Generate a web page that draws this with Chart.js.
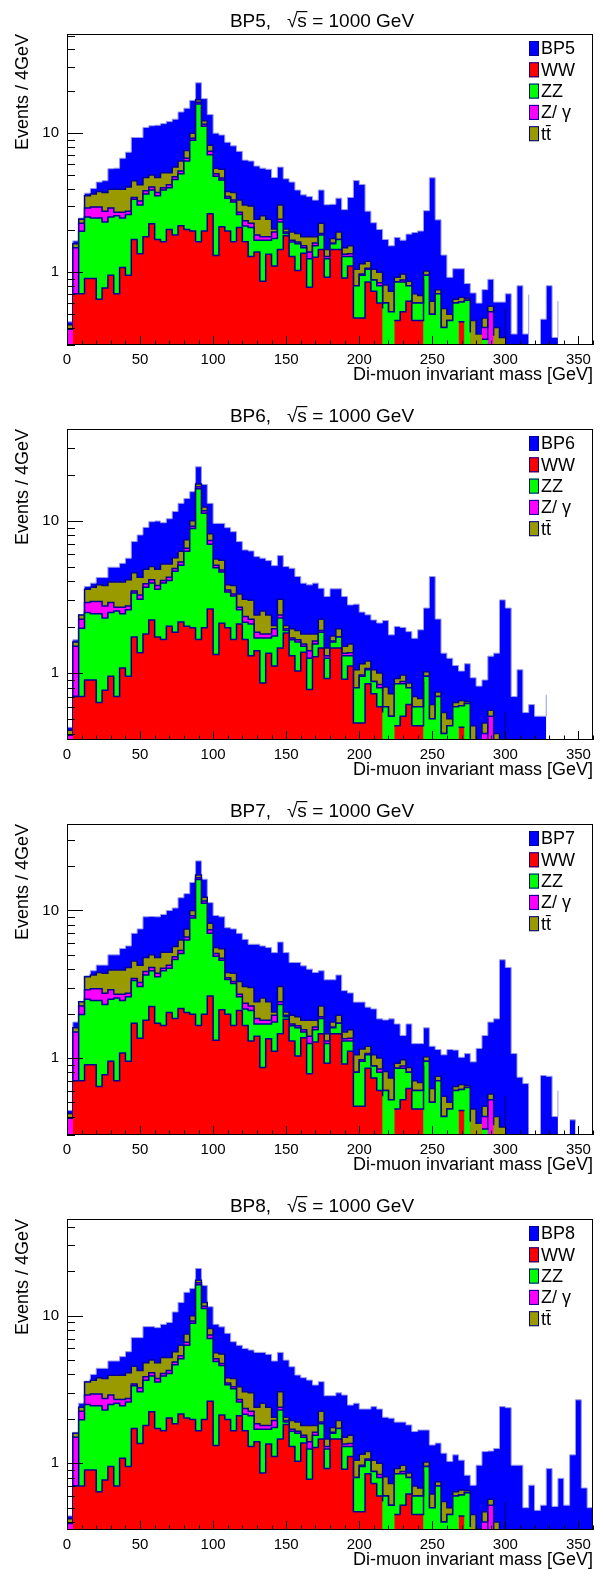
<!DOCTYPE html>
<html>
<head>
<meta charset="utf-8">
<title>Di-muon invariant mass, BP5 - BP8</title>
<script src="https://cdn.jsdelivr.net/npm/chart.js@4.4.1/dist/chart.umd.min.js"></script>
<style>
  html, body { margin: 0; padding: 0; background: #fff; }
  .panel { position: relative; width: 603px; height: 395px; }
</style>
</head>
<body>
<div class="panel"><canvas id="bp5"></canvas></div>
<div class="panel"><canvas id="bp6"></canvas></div>
<div class="panel"><canvas id="bp7"></canvas></div>
<div class="panel"><canvas id="bp8"></canvas></div>
<script>
// 90 bins of 4 GeV, 0 - 360 GeV
const binWidth = 4;
const massMax = 360;
const xTickLabels = [0, 50, 100, 150, 200, 250, 300, 350];
const yTickLabels = [1, 10];

// backgrounds (same in every panel), events per bin
const ww = [
  0, 0.70, 0.70, 0.90, 0.90, 0.64, 0.77, 0.95, 0.70, 1.08,
  0.95, 1.72, 1.36, 1.80, 2.23, 1.72, 1.66, 2.03, 1.85, 2.16,
  2.03, 1.98, 1.66, 1.98, 2.63, 1.32, 2.12, 1.98, 1.66, 2.10,
  1.66, 1.30, 1.40, 0.86, 1.35, 1.11, 1.46, 1.83, 1.30, 1.03,
  1.37, 0.78, 1.28, 1.46, 0.92, 1.46, 1.46, 0.91, 1.11, 0.47,
  0.47, 0.85, 0.73, 0.60, 0.55, 0, 0.45, 0.52, 0.62, 0.45,
  0.45, 0.88, 0, 0.38, 0, 0, 0, 0.44, 0.44, 0,
  0, 0, 0, 0, 0, 0, 0, 0.44, 0, 0,
  0, 0, 0.44, 0, 0, 0, 0, 0, 0, 0
];
const zz = [
  0, 0, 1.27, 1.60, 1.55, 1.81, 1.53, 1.55, 1.85, 1.37,
  1.65, 1.63, 1.69, 1.85, 1.67, 1.83, 2.24, 2.02, 2.80, 2.94,
  4.27, 6.92, 14.54, 9.22, 4.37, 3.58, 2.48, 1.42, 1.54, 0.50,
  0.49, 0.80, 0.30, 0.84, 0.35, 0.64, 0.84, 0.07, 0.35, 0.57,
  0.13, 0.47, 0.27, 0.39, 0.33, 0.14, 0.26, 0.39, 0.19, 0.33,
  0.48, 0.20, 0.15, 0.20, 0.05, 0.52, 0.40, 0.33, 0.18, 0.15,
  0.15, 0.07, 0.50, 0.32, 0.40, 0.45, 0.60, 0.17, 0.19, 0.37,
  0, 0.33, 0.52, 0, 0, 0.53, 0, 0.18, 0, 0.44,
  0, 0, 0.14, 0, 0.46, 0, 0, 0, 0, 0
];
const zgamma = [
  0.39, 0.80, 0.28, 0.40, 0.50, 0.50, 0.45, 0.40, 0.15, 0.25,
  0.15, 0.10, 0.20, 0.20, 0.20, 0.20, 0.15, 0.20, 0.20, 0.25,
  0.30, 0.30, 0.50, 0.40, 0.40, 0.20, 0.15, 0.10, 0.10, 0.10,
  0.20, 0.15, 0.15, 0.10, 0.10, 0.20, 0.10, 0.05, 0.05, 0.05,
  0.05, 0.15, 0.07, 0.05, 0.05, 0.02, 0, 0.05, 0.06, 0,
  0.02, 0.02, 0, 0.04, 0, 0, 0, 0.03, 0, 0,
  0, 0, 0, 0, 0, 0, 0, 0, 0, 0,
  0, 0.07, 0, 0.35, 0, 0, 0, 0, 0, 0,
  0, 0, 0, 0, 0, 0, 0, 0, 0, 0
];
const ttbar = [
  0.03, 0.10, 0.15, 0.65, 0.70, 0.85, 1.00, 1.05, 1.25, 1.25,
  1.35, 1.10, 1.00, 0.95, 0.90, 1.05, 1.15, 0.95, 0.85, 0.95,
  0.90, 0.80, 0.70, 0.70, 0.80, 0.50, 0.75, 0.30, 0.45, 0.60,
  0.70, 0.75, 0.55, 0.75, 0.60, 0.10, 0.65, 0.10, 0.25, 0.25,
  0.25, 0.40, 0.18, 0.35, 0.16, 0.13, 0.23, 0.15, 0.19, 0.25,
  0.18, 0.13, 0.17, 0.16, 0.21, 0.21, 0.07, 0.09, 0.06, 0.10,
  0.08, 0.07, 0.12, 0.05, 0.15, 0.05, 0.04, 0.05, 0.02, 0.08,
  0.36, 0.07, 0.05, 0.05, 0.34, 0.02, 0, 0.03, 0, 0.02,
  0, 0, 0.02, 0, 0.01, 0, 0, 0, 0, 0
];

// signal benchmark points
const bp5 = [
  0.02, 0.08, 0.05, 0.15, 0.35, 0.65, 0.80, 1.60, 1.65, 2.65,
  3.20, 4.75, 5.05, 6.20, 6.30, 6.60, 6.50, 6.90, 6.90, 7.90,
  7.60, 7.20, 5.60, 5.40, 5.40, 4.40, 4.20, 4.80, 4.35, 4.10,
  3.35, 3.30, 3.40, 3.05, 3.10, 2.75, 2.65, 2.65, 2.50, 2.00,
  1.80, 1.70, 1.50, 1.65, 1.60, 1.33, 1.46, 1.32, 1.90, 3.52,
  3.13, 1.55, 1.22, 1.03, 0.91, 0.82, 0.86, 0.73, 1.02, 1.23,
  1.30, 1.75, 4.16, 1.63, 0.78, 0.42, 0.42, 0.40, 0.18, 0.26,
  0.24, 0.28, 0.32, 0.21, 0.27, 0.15, 0.36, 0.15, 0.36, 0.23,
  0, 0.46, 0.20, 0.34, 0.15, 0, 0, 0, 0, 0
];
const bp6 = [
  0.02, 0.05, 0.02, 0.15, 0.24, 0.43, 0.48, 1.00, 1.00, 1.30,
  1.57, 2.74, 3.81, 4.24, 4.85, 5.15, 4.50, 5.10, 5.80, 6.70,
  6.50, 5.50, 5.20, 5.00, 4.80, 4.00, 4.10, 5.20, 4.72, 3.99,
  3.38, 3.33, 3.41, 3.12, 3.07, 3.02, 2.85, 2.95, 2.92, 2.40,
  2.09, 1.99, 2.09, 1.35, 1.72, 1.82, 1.62, 1.68, 1.25, 1.78,
  1.36, 1.21, 1.18, 1.13, 1.40, 1.05, 1.10, 1.02, 1.01, 0.99,
  1.24, 1.65, 3.68, 1.51, 0.80, 0.75, 0.48, 0.37, 0.50, 0.48,
  0.46, 0.43, 0.72, 0.95, 2.68, 2.12, 0.70, 0.40, 0.55, 0.16,
  0.52, 0.52, 0.12, 0, 0.19, 0, 0, 0.40, 0, 0
];
const bp7 = [
  0.02, 0.15, 0.02, 0.05, 0.25, 0.46, 0.51, 1.05, 1.05, 1.57,
  1.65, 2.45, 3.25, 4.26, 4.10, 4.26, 4.20, 4.80, 4.70, 5.90,
  5.50, 5.50, 4.30, 4.00, 3.10, 3.65, 3.56, 3.84, 3.75, 3.70,
  3.32, 2.90, 3.50, 3.20, 3.20, 3.13, 3.06, 3.13, 2.49, 2.54,
  2.41, 2.20, 2.00, 1.65, 1.93, 1.64, 1.70, 1.36, 1.21, 1.34,
  1.24, 1.01, 1.10, 0.84, 1.00, 1.11, 0.78, 0.45, 0.84, 0.55,
  0.57, 0.58, 0.58, 0.39, 0.50, 0.64, 0.49, 0.35, 0.42, 0.49,
  0.80, 0.95, 1.18, 1.44, 4.29, 3.56, 1.07, 0.09, 0.67, 0.18,
  0, 0.76, 0.15, 0.40, 0.13, 0, 0.38, 0.36, 0, 0
];
const bp8 = [
  0.02, 0.02, 0.15, 0.05, 0.35, 0.60, 0.65, 0.98, 0.98, 1.33,
  1.60, 2.55, 2.85, 3.63, 3.43, 3.50, 3.54, 3.80, 4.90, 6.00,
  6.90, 5.30, 3.50, 3.70, 3.30, 3.14, 2.90, 3.80, 2.91, 3.00,
  2.95, 2.85, 3.24, 3.09, 3.07, 2.88, 2.59, 2.95, 2.56, 2.06,
  2.00, 1.86, 1.59, 1.32, 1.41, 1.12, 1.05, 1.40, 0.93, 1.50,
  1.18, 1.13, 1.37, 1.33, 1.24, 1.29, 0.98, 0.93, 0.96, 0.94,
  1.00, 0.66, 0.71, 0.62, 0.62, 0.53, 0.50, 0.39, 0.18, 0.26,
  0.61, 0.73, 0.64, 0.86, 2.08, 1.83, 0.97, 0.32, 0.50, 0.25,
  0.48, 0.52, 0.32, 0.51, 0.32, 0.52, 1.14, 2.69, 0.68, 0.50
];

const panels = [
  { id: 'bp5', name: 'BP5', signal: bp5, yMin: 0.325, yMax: 51.6 },
  { id: 'bp6', name: 'BP6', signal: bp6, yMin: 0.363, yMax: 40.0 },
  { id: 'bp7', name: 'BP7', signal: bp7, yMin: 0.309, yMax: 38.6 },
  { id: 'bp8', name: 'BP8', signal: bp8, yMin: 0.353, yMax: 45.2 }
];

const FONT = '"Liberation Sans", Arial, Helvetica, sans-serif';
const LINE = '#000099';
Chart.defaults.font.family = FONT;
Chart.defaults.color = '#000';

// histogram as a step line: one point per low bin edge plus the upper edge
function stepPoints(values) {
  const pts = values.map((v, i) => ({ x: i * binWidth, y: v }));
  pts.push({ x: values.length * binWidth, y: values[values.length - 1] });
  return pts;
}

// draws the ROOT-like frame, inward ticks, title and legend
const rootFrame = {
  id: 'rootFrame',
  afterDraw(chart, args, opts) {
    const { ctx, chartArea: a } = chart;
    const xs = chart.scales.x;
    const ys = chart.scales.y;
    ctx.save();
    ctx.strokeStyle = '#000';
    ctx.lineWidth = 1;
    ctx.beginPath();
    for (let v = 0; v <= massMax; v += 10) {
      const px = Math.round(xs.getPixelForValue(v)) + 0.5;
      ctx.moveTo(px, a.bottom);
      ctx.lineTo(px, a.bottom - (v % 50 === 0 ? 9 : 4.5));
    }
    [0.1, 1, 10].forEach(dec => {
      for (let m = 1; m <= 9; m++) {
        const v = m * dec;
        if (v < ys.min || v > ys.max) continue;
        const py = Math.round(ys.getPixelForValue(v)) + 0.5;
        ctx.moveTo(a.left, py);
        ctx.lineTo(a.left + (m === 1 ? 16 : 8), py);
      }
    });
    ctx.stroke();
    ctx.strokeRect(a.left + 0.5, a.top + 0.5, a.width - 1, a.height - 1);

    // title with the square root bar over s
    ctx.fillStyle = '#000';
    ctx.font = '19px ' + FONT;
    ctx.textAlign = 'left';
    ctx.textBaseline = 'alphabetic';
    const head = opts.name + ',   \u221A';
    const text = head + 's = 1000 GeV';
    const x0 = 322 - ctx.measureText(text).width / 2;
    const base = 26.5;
    ctx.fillText(text, x0, base);
    const s0 = x0 + ctx.measureText(head).width;
    const s1 = s0 + ctx.measureText('s').width;
    ctx.fillRect(s0 - 1, base - 15.5, s1 - s0 + 1.5, 1.2);

    // legend
    ctx.font = '18px ' + FONT;
    ctx.textBaseline = 'middle';
    const bx = a.right - 64;
    opts.entries.forEach((e, k) => {
      const cy = a.top + 14.5 + k * 21.3;
      ctx.fillStyle = e.color;
      ctx.fillRect(bx, cy - 7.5, 10, 15);
      ctx.strokeStyle = LINE;
      ctx.strokeRect(bx + 0.5, cy - 7, 9, 14);
      ctx.fillStyle = '#000';
      ctx.fillText(e.label, bx + 12, cy + 1);
    });
    ctx.restore();
  }
};

panels.forEach(p => {
  const layers = [
    { label: 'WW', values: ww, color: '#ff0000' },
    { label: 'ZZ', values: zz, color: '#00ff00' },
    { label: 'Z/ \u03B3', values: zgamma, color: '#ff00ff' },
    { label: 'tt\u0304', values: ttbar, color: '#999900' },
    { label: p.name, values: p.signal, color: '#0000ff' }
  ];
  // stack: each dataset is the running sum, first one drawn on top
  let running = ww.map(() => 0);
  const datasets = layers.map((l, k) => {
    running = running.map((r, i) => Math.round((r + l.values[i]) * 1000) / 1000);
    return {
      label: l.label,
      data: stepPoints(running),
      stepped: true,
      fill: 'start',
      backgroundColor: l.color,
      borderColor: k === 4 ? '#9a9ae8' : LINE,
      borderWidth: k === 4 ? 1 : 1.5,
      borderJoinStyle: 'miter',
      pointRadius: 0,
      clip: 0
    };
  });
  const legendEntries = [layers[4], layers[0], layers[1], layers[2], layers[3]];

  new Chart(document.getElementById(p.id), {
    type: 'line',
    data: { datasets },
    options: {
      responsive: true,
      maintainAspectRatio: false,
      animation: false,
      events: [],
      layout: { padding: { top: 34, right: 10, bottom: 0, left: 0 } },
      plugins: {
        legend: { display: false },
        tooltip: { enabled: false },
        rootFrame: { name: p.name, entries: legendEntries }
      },
      scales: {
        x: {
          type: 'linear',
          min: 0,
          max: massMax,
          grid: { display: false, drawTicks: false },
          border: { display: false },
          afterBuildTicks: s => { s.ticks = xTickLabels.map(v => ({ value: v })); },
          afterFit: s => { s.height = 50; },
          ticks: { padding: 6, maxRotation: 0, autoSkip: false, font: { size: 15 } },
          title: {
            display: true,
            text: 'Di-muon invariant mass [GeV]',
            align: 'end',
            font: { size: 18 },
            padding: { top: 0, bottom: 9 }
          }
        },
        y: {
          type: 'logarithmic',
          min: p.yMin,
          max: p.yMax,
          grid: { display: false, drawTicks: false },
          border: { display: false },
          afterBuildTicks: s => { s.ticks = yTickLabels.map(v => ({ value: v })); },
          afterFit: s => { s.width = 67; },
          ticks: { padding: 8, font: { size: 15 }, callback: v => String(v) },
          title: {
            display: true,
            text: 'Events / 4GeV',
            align: 'end',
            font: { size: 18 },
            padding: { top: 12, bottom: 0 }
          }
        }
      }
    },
    plugins: [rootFrame]
  });
});
</script>
</body>
</html>
